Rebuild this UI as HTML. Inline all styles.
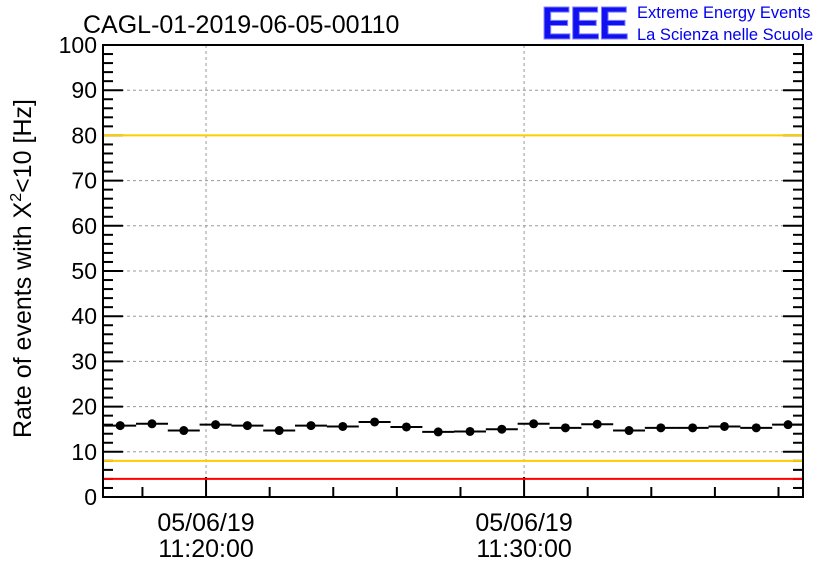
<!DOCTYPE html>
<html><head><meta charset="utf-8"><style>
body{margin:0;background:#fff;}
svg text{font-family:"Liberation Sans",sans-serif;}
</style></head><body>
<svg id="chart" width="836" height="572" xmlns="http://www.w3.org/2000/svg">
<rect width="836" height="572" fill="#fff"/>
<text x="83" y="33" font-size="25">CAGL-01-2019-06-05-00110</text>
<text x="541" y="39" font-size="46" font-weight="bold" fill="#1010f0" letter-spacing="-2" stroke="#8080ff" stroke-width="1">EEE</text>
<text x="637" y="18" font-size="16.5" fill="#0000ee">Extreme Energy Events</text>
<text x="637" y="40" font-size="16.5" fill="#0000ee">La Scienza nelle Scuole</text>
<text transform="translate(31,438) rotate(-90)" font-size="25">Rate of events with X<tspan font-size="16" dy="-10">2</tspan><tspan dy="10">&lt;10 [Hz]</tspan></text>
<g id="grid"></g>
<g id="ticks"></g>
<g id="lines"></g>
<g id="marks"></g>
<rect x="103" y="45" width="700" height="452" fill="none" stroke="#000" stroke-width="2"/>
</svg>
<script>
const yTickValues=[0,10,20,30,40,50,60,70,80,90,100];
const xTickMinutes=[0,10];
const xTickLabelsDate=["05/06/19","05/06/19"];
const xTickLabelsTime=["11:20:00","11:30:00"];
const pointMinutes=[-2.7,-1.7,-0.7,0.3,1.3,2.3,3.3,4.3,5.3,6.3,7.3,8.3,9.3,10.3,11.3,12.3,13.3,14.3,15.3,16.3,17.3,18.3];
const rates=[15.8,16.2,14.7,16.0,15.8,14.7,15.8,15.6,16.6,15.5,14.4,14.5,15.0,16.2,15.3,16.1,14.7,15.3,15.3,15.6,15.3,16.0];
const thresholds=[{v:80,c:"#ffcc00"},{v:8,c:"#ffcc00"},{v:4,c:"#ff0000"},{v:100,c:"#ff0000"}];
const X0=103,X1=803,Y0=497,Y1=45,xMin=-3.24,xMax=18.77;
const xs=m=>X0+(m-xMin)/(xMax-xMin)*(X1-X0);
const ys=v=>Y0-v/100*(Y0-Y1);
const NS="http://www.w3.org/2000/svg";
function mk(tag,parent,attrs){const e=document.createElementNS(NS,tag);for(const k in attrs)e.setAttribute(k,attrs[k]);parent.appendChild(e);return e;}
const grid=document.getElementById('grid'),ticks=document.getElementById('ticks'),lines=document.getElementById('lines'),marks=document.getElementById('marks');
yTickValues.forEach(v=>{
  if(v>0&&v<100){const g=mk('line',grid,{x1:X0,x2:X1,y1:ys(v),y2:ys(v),stroke:'#999','stroke-dasharray':'3,3','stroke-width':1});
  
  }
  const t=mk('text',ticks,{x:X0-6,y:ys(v)+8,'font-size':23,'text-anchor':'end'});
  
  
  t.textContent=v;
});
for(let v=0;v<=100;v+=2){const L=v%10==0?20:(v%10==5?14:10);
  mk('line',ticks,{x1:X0,x2:X0+L,y1:ys(v),y2:ys(v),stroke:'#000','stroke-width':2});
  mk('line',ticks,{x1:X1-L,x2:X1,y1:ys(v),y2:ys(v),stroke:'#000','stroke-width':2});}
for(let m=-2;m<=18;m+=2){const L=m%10==0?20:10;
  mk('line',ticks,{x1:xs(m),x2:xs(m),y1:Y0,y2:Y0-L,stroke:'#000','stroke-width':2});}
xTickMinutes.forEach((m,i)=>{
  const g=mk('line',grid,{x1:xs(m),x2:xs(m),y1:Y1,y2:Y0,stroke:'#999','stroke-dasharray':'3,3','stroke-width':1});
  
  
  const a=mk('text',ticks,{x:xs(m),y:531,'font-size':25,'text-anchor':'middle'});
  
  
  a.textContent=xTickLabelsDate[i];
  const b=mk('text',ticks,{x:xs(m),y:557,'font-size':25,'text-anchor':'middle'});
  
  
  b.textContent=xTickLabelsTime[i];
});
thresholds.forEach(t=>{
  const l=mk('line',lines,{x1:X0,x2:X1,y1:ys(t.v),y2:ys(t.v),stroke:t.c,'stroke-width':2});
  
  
});
pointMinutes.forEach((m,i)=>{
  const x=xs(m),y=ys(rates[i]);
  const e=mk('line',marks,{x1:x-16,x2:x+16,y1:y,y2:y,stroke:'#000','stroke-width':2});
  
  
  const c=mk('circle',marks,{cx:x,cy:y,r:4.5,fill:'#000'});
  
  
});
</script>
</body></html>
